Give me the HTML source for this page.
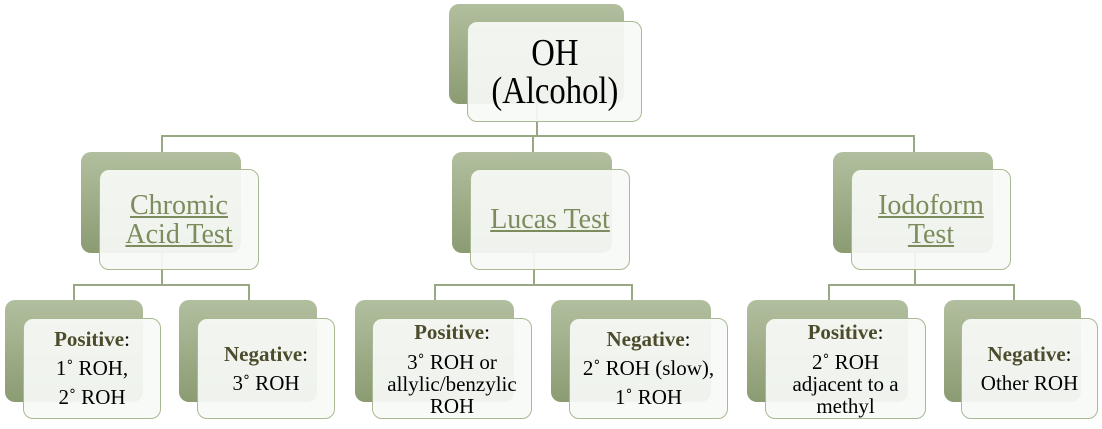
<!DOCTYPE html>
<html><head><meta charset="utf-8"><style>
body{margin:0;width:1102px;height:429px;background:#fff;position:relative;overflow:hidden;font-family:"Liberation Serif",serif}
.b{position:absolute;border-radius:10px;background:linear-gradient(#b2bf9f,#8b9b72)}
.f{position:absolute;border-radius:10px;background:rgba(248,250,246,0.93);border:1.5px solid #a9b993;box-sizing:border-box;display:flex;align-items:center;justify-content:center;text-align:center;color:#000}
.l{position:absolute;background:#98a882}
.m{font-size:28px;line-height:29px;color:#7c8c5c;text-decoration:underline}
.s{font-size:21px;line-height:29px}
.s4{line-height:22px}
.s4 .h{margin-bottom:8px}
.s b{color:#4c4c2c}
</style></head><body>
<div class="l" style="left:536px;top:104px;width:1.5px;height:32px"></div>
<div class="l" style="left:161px;top:135px;width:752px;height:1.5px"></div>
<div class="l" style="left:161px;top:135px;width:1.5px;height:18px"></div>
<div class="l" style="left:532px;top:135px;width:1.5px;height:18px"></div>
<div class="l" style="left:913px;top:135px;width:1.5px;height:18px"></div>
<div class="l" style="left:161px;top:253px;width:1.5px;height:32px"></div>
<div class="l" style="left:73px;top:284px;width:176px;height:1.5px"></div>
<div class="l" style="left:73px;top:284px;width:1.5px;height:16px"></div>
<div class="l" style="left:248px;top:284px;width:1.5px;height:16px"></div>
<div class="l" style="left:533px;top:253px;width:1.5px;height:32px"></div>
<div class="l" style="left:434px;top:284px;width:198px;height:1.5px"></div>
<div class="l" style="left:434px;top:284px;width:1.5px;height:16px"></div>
<div class="l" style="left:631px;top:284px;width:1.5px;height:16px"></div>
<div class="l" style="left:914px;top:253px;width:1.5px;height:32px"></div>
<div class="l" style="left:828px;top:284px;width:186px;height:1.5px"></div>
<div class="l" style="left:828px;top:284px;width:1.5px;height:16px"></div>
<div class="l" style="left:1013px;top:284px;width:1.5px;height:16px"></div>

<div class="b" style="left:449px;top:4px;width:175px;height:100px"></div>
<div class="f" style="left:467px;top:21px;width:175px;height:101px;font-size:38px;line-height:38px"><div style="transform:scaleX(0.86)">OH<br>(Alcohol)</div></div>

<div class="b" style="left:81px;top:152px;width:160px;height:101px"></div>
<div class="f m" style="left:99px;top:169px;width:160px;height:101px">Chromic<br>Acid Test</div>
<div class="b" style="left:452px;top:152px;width:160px;height:101px"></div>
<div class="f m" style="left:470px;top:169px;width:160px;height:101px">Lucas Test</div>
<div class="b" style="left:833px;top:152px;width:160px;height:101px"></div>
<div class="f m" style="left:851px;top:169px;width:160px;height:101px">Iodoform<br>Test</div>

<div class="b" style="left:5px;top:300px;width:138px;height:102px"></div>
<div class="f s" style="left:23px;top:318px;width:138px;height:101px"><div><b>Positive</b>:<br>1˚ ROH,<br>2˚ ROH</div></div>
<div class="b" style="left:179px;top:300px;width:138px;height:102px"></div>
<div class="f s" style="left:197px;top:318px;width:138px;height:101px"><div><b>Negative</b>:<br>3˚ ROH</div></div>
<div class="b" style="left:355px;top:300px;width:159px;height:102px"></div>
<div class="f s s4" style="left:372px;top:318px;width:160px;height:101px"><div><div class="h"><b>Positive</b>:</div>3˚ ROH or<br>allylic/benzylic<br>ROH</div></div>
<div class="b" style="left:551px;top:300px;width:160px;height:102px"></div>
<div class="f s" style="left:569px;top:318px;width:159px;height:101px"><div><b>Negative</b>:<br>2˚ ROH (slow),<br>1˚ ROH</div></div>
<div class="b" style="left:747px;top:300px;width:161px;height:102px"></div>
<div class="f s s4" style="left:765px;top:318px;width:161px;height:101px"><div><div class="h"><b>Positive</b>:</div>2˚ ROH<br>adjacent to a<br>methyl</div></div>
<div class="b" style="left:944px;top:300px;width:137px;height:102px"></div>
<div class="f s" style="left:961px;top:318px;width:137px;height:101px"><div><b>Negative</b>:<br>Other ROH</div></div>
</body></html>
